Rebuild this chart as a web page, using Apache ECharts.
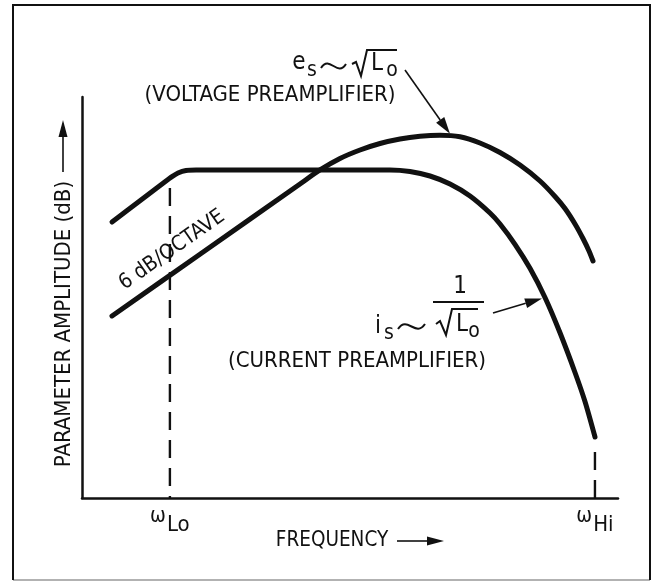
<!DOCTYPE html>
<html>
<head>
<meta charset="utf-8">
<script src="https://cdn.jsdelivr.net/npm/echarts@6/dist/echarts.min.js"></script>
<style>
  html, body { margin: 0; padding: 0; background: #fff; }
  #chart { width: 653px; height: 583px; }
</style>
</head>
<body>
<div id="chart"></div>
<script>
// Frequency response of voltage vs. current preamplifiers (schematic units 0..100)

// current preamplifier: rises, flat plateau, rolls off at high frequency
const currentFreq = [5.60, 10.82, 15.49, 16.79, 17.91, 19.40, 21.27, 40.67, 57.46, 61.19, 64.93, 68.66, 72.39, 76.12, 77.99, 80.78, 83.58, 86.38, 89.18, 91.98, 93.84, 95.71];
const currentAmp  = [68.83, 74.14, 78.88, 80.15, 81.05, 81.67, 81.80, 81.80, 81.80, 81.42, 80.30, 78.30, 75.31, 71.07, 68.33, 63.27, 57.28, 50.00, 41.20, 31.30, 24.06, 15.21];

// voltage preamplifier: 6 dB/octave rise, broad peak, roll-off
const voltageFreq = [5.60, 22.01, 40.67, 44.40, 48.13, 51.87, 55.60, 59.33, 63.06, 66.79, 70.52, 74.25, 77.99, 81.72, 85.45, 88.25, 90.11, 91.98, 93.47, 94.59, 95.34];
const voltageAmp  = [45.39, 60.80, 78.30, 81.80, 84.66, 86.78, 88.40, 89.53, 90.20, 90.45, 90.07, 88.53, 86.16, 83.04, 79.05, 75.19, 72.19, 68.33, 64.71, 61.60, 59.10];

// band edges and the height of their guide lines
const edgeFreq  = [16.4, 95.7];
const edgeTop   = [77.3, 11.5];
const edgeNames = ['Lo', 'Hi'];

const FONT = "'Liberation Sans Narrow', 'DejaVu Sans Condensed', 'Arial Narrow', sans-serif";
const INK = '#111';

const toPairs = (xs, ys) => xs.map((x, i) => [x, ys[i]]);

const chart = echarts.init(document.getElementById('chart'), null, { renderer: 'canvas', width: 653, height: 583 });

const guideSeries = edgeFreq.map((f, i) => ({
  type: 'line',
  silent: true,
  symbol: 'none',
  data: [[f, edgeTop[i]], [f, 0]],
  lineStyle: { color: INK, width: 2.4, type: [18, 10] },
  z: 1
}));

chart.setOption({
  animation: false,
  backgroundColor: '#fff',
  grid: { left: 82, right: 35, top: 97, bottom: 85, containLabel: false, outerBoundsMode: 'none' },
  xAxis: {
    type: 'value', min: 0, max: 100,
    axisLine: { show: true, lineStyle: { color: INK, width: 2.5 } },
    axisTick: { show: false },
    splitLine: { show: false },
    axisLabel: {
      show: true,
      customValues: edgeFreq,
      margin: 8,
      formatter: v => '{w|ω}{s|' + edgeNames[edgeFreq.indexOf(v)] + '}',
      rich: {
        w: { fontFamily: FONT, fontSize: 21, color: INK, padding: [0, 1, 12, 0] },
        s: { fontFamily: FONT, fontSize: 22, color: INK, padding: [5, 0, 0, 0] }
      }
    }
  },
  yAxis: {
    type: 'value', min: 0, max: 100,
    axisLine: { show: true, lineStyle: { color: INK, width: 2.5 } },
    axisTick: { show: false },
    axisLabel: { show: false },
    splitLine: { show: false }
  },
  series: [
    {
      name: 'current',
      type: 'line', silent: true, symbol: 'none', smooth: 0.25,
      data: toPairs(currentFreq, currentAmp),
      lineStyle: { color: INK, width: 5, cap: 'round', join: 'round' },
      z: 3
    },
    {
      name: 'voltage',
      type: 'line', silent: true, symbol: 'none', smooth: 0.25,
      data: toPairs(voltageFreq, voltageAmp),
      lineStyle: { color: INK, width: 5, cap: 'round', join: 'round' },
      z: 3
    }
  ].concat(guideSeries)
});

// annotation helpers
function txt(s, x, y, size, rot) {
  return {
    type: 'text', x: x, y: y, rotation: rot || 0, silent: true, z: 10,
    style: { text: s, fontFamily: FONT, fontSize: size, fill: INK, align: 'center', verticalAlign: 'middle' }
  };
}
function seg(pts, w) {
  return { type: 'polyline', silent: true, z: 10, shape: { points: pts }, style: { stroke: INK, lineWidth: w || 2, fill: null } };
}
function tilde(x0, y0, x1, y1) {
  const dx = x1 - x0;
  return {
    type: 'bezierCurve', silent: true, z: 10,
    shape: { x1: x0, y1: y0, cpx1: x0 + dx * 0.35, cpy1: y0 - 14, cpx2: x0 + dx * 0.65, cpy2: y1 + 14, x2: x1, y2: y1 },
    style: { stroke: INK, lineWidth: 2, fill: null }
  };
}
function arrow(tail, tip, headLen, headHalf) {
  const dx = tip[0] - tail[0], dy = tip[1] - tail[1];
  const len = Math.sqrt(dx * dx + dy * dy);
  const ux = dx / len, uy = dy / len;
  const bx = tip[0] - ux * headLen, by = tip[1] - uy * headLen;
  return [
    seg([tail, [bx, by]], 1.6),
    { type: 'polygon', silent: true, z: 10,
      shape: { points: [tip, [bx - uy * headHalf, by + ux * headHalf], [bx + uy * headHalf, by - ux * headHalf]] },
      style: { fill: INK } }
  ];
}

// arrow tips sit on the curves
const vTip = chart.convertToPixel({ gridIndex: 0 }, [voltageFreq[10], voltageAmp[10]]);
const cTip = chart.convertToPixel({ gridIndex: 0 }, [currentFreq[17], currentAmp[17]]);

// slope of the 6 dB/octave segment
const p0 = chart.convertToPixel({ gridIndex: 0 }, [voltageFreq[0], voltageAmp[0]]);
const p1 = chart.convertToPixel({ gridIndex: 0 }, [voltageFreq[1], voltageAmp[1]]);
const slopeAngle = Math.atan2(p0[1] - p1[1], p1[0] - p0[0]);

const g = [];
// outer frame
g.push(seg([[13, 580], [13, 5], [650, 5], [650, 580]], 2));
g.push({ type: 'line', silent: true, shape: { x1: 13, y1: 580, x2: 650, y2: 580 }, style: { stroke: '#999', lineWidth: 1.5 } });

// axis titles with arrows
g.push(txt('PARAMETER AMPLITUDE (dB)', 64, 324, 22, Math.PI / 2));
g.push(...arrow([63, 172], [63, 120], 17, 4.5));
g.push(txt('FREQUENCY', 332, 541, 20.5));
g.push(...arrow([397, 541], [444, 541], 17, 4.5));

// slope annotation
g.push(txt('6 dB/OCTAVE', 172, 250, 21, slopeAngle));

// voltage preamplifier note
g.push(txt('e', 299, 63, 24));
g.push(txt('s', 312, 71, 21));
g.push(tilde(321, 68, 346, 64));
g.push(seg([[352, 64], [356, 62], [361, 76], [367, 50], [397, 50]], 2));
g.push(txt('L', 377, 64, 24));
g.push(txt('o', 392, 71, 21));
g.push(txt('(VOLTAGE PREAMPLIFIER)', 270, 95, 22));
g.push(...arrow([405, 70], [vTip[0] - 10, vTip[1] - 3], 17, 5));

// current preamplifier note
g.push(txt('i', 378, 327, 24));
g.push(txt('s', 389, 334, 21));
g.push(tilde(398, 329, 425, 324));
g.push(txt('1', 460, 287, 24));
g.push(seg([[433, 302], [484, 302]], 2));
g.push(seg([[436, 324], [440, 321], [446, 335], [452, 309], [478, 309]], 2));
g.push(txt('L', 462, 325, 24));
g.push(txt('o', 474, 332, 21));
g.push(txt('(CURRENT PREAMPLIFIER)', 357, 361, 22));
g.push(...arrow([493, 313], [cTip[0] - 3, cTip[1] + 1], 17, 5));

chart.setOption({ graphic: g });
</script>
</body>
</html>
